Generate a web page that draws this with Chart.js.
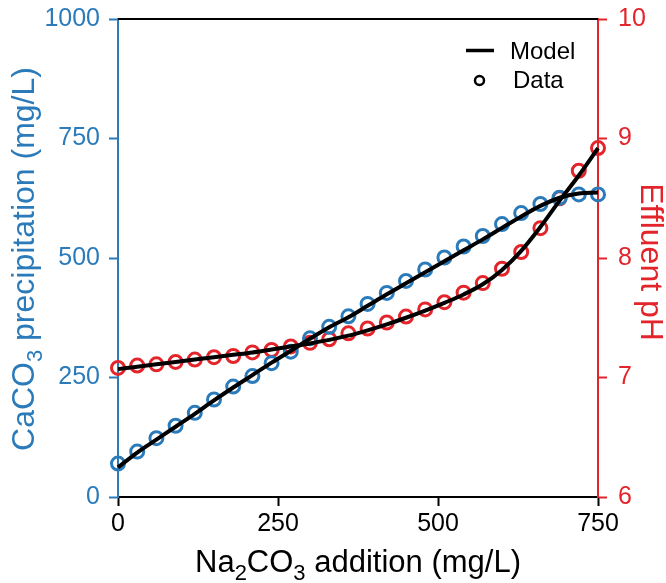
<!DOCTYPE html>
<html>
<head>
<meta charset="utf-8">
<script src="https://cdn.jsdelivr.net/npm/chart.js@4"></script>
<style>
  html, body { margin: 0; padding: 0; background: #fff; }
  #wrap { width: 666px; height: 583px; }
</style>
</head>
<body>
<div id="wrap"><canvas id="chart" width="666" height="583"></canvas></div>
<script>
// Na2CO3 addition (mg/L)
const doseX = [0, 30, 60, 90, 120, 150, 180, 210, 240, 270, 300, 330, 360, 390, 420, 450, 480, 510, 540, 570, 600, 630, 660, 690, 720, 750];
// measured points
const caco3Data = [70, 95, 123, 149, 176, 204, 231, 253, 280, 304, 332, 356, 378, 404, 427, 452, 476, 501, 524, 546, 571, 594, 613, 626, 633, 633];
const phData = [7.08, 7.10, 7.11, 7.13, 7.15, 7.17, 7.18, 7.21, 7.23, 7.26, 7.29, 7.32, 7.37, 7.41, 7.46, 7.51, 7.57, 7.63, 7.71, 7.79, 7.91, 8.05, 8.25, 8.50, 8.73, 8.92];
// model curves
const caco3Model = [62, 93, 120, 147, 174, 202, 229, 255, 281, 306, 331, 355, 376, 400, 424, 447, 470, 493, 516, 539, 563, 587, 609, 626, 635, 637];
const phModel = [7.07, 7.09, 7.11, 7.13, 7.15, 7.17, 7.19, 7.21, 7.235, 7.26, 7.285, 7.315, 7.35, 7.395, 7.445, 7.5, 7.56, 7.625, 7.695, 7.78, 7.9, 8.06, 8.26, 8.48, 8.69, 8.92];

const xTicks = [0, 250, 500, 750];
const caco3Ticks = [0, 250, 500, 750, 1000];
const phTicks = [6, 7, 8, 9, 10];

const BLUE = '#2b7bba';
const RED = '#e3242b';
const FONT = "'Liberation Sans', Arial, sans-serif";

function pts(ys) {
  return doseX.map((x, i) => ({x: x, y: ys[i]}));
}

//draw a string made of pieces, some of them subscripts
function drawPieces(ctx, pieces, size, align) {
  const sub = Math.round(size * 0.7);
  let total = 0;
  pieces.forEach(p => {
    ctx.font = `${p.sub ? sub : size}px ${FONT}`;
    p.w = ctx.measureText(p.t).width;
    total += p.w;
  });
  let x = align == 'center' ? -total / 2 : 0;
  pieces.forEach(p => {
    ctx.font = `${p.sub ? sub : size}px ${FONT}`;
    ctx.fillText(p.t, x, p.sub ? size * 0.25 : 0);
    x += p.w;
  });
}

const decorations = {
  id: 'decorations',
  afterDraw(chart) {
    const ctx = chart.ctx;
    const a = chart.chartArea;
    ctx.save();
    //top spine
    ctx.strokeStyle = '#000';
    ctx.lineWidth = 2;
    ctx.beginPath();
    ctx.moveTo(a.left, a.top);
    ctx.lineTo(a.right, a.top);
    ctx.stroke();

    ctx.textBaseline = 'alphabetic';
    ctx.textAlign = 'left';

    //x title
    ctx.fillStyle = '#000';
    ctx.save();
    ctx.translate((a.left + a.right) / 2, 572);
    drawPieces(ctx, [{t: 'Na'}, {t: '2', sub: true}, {t: 'CO'}, {t: '3', sub: true}, {t: ' addition (mg/L)'}], 31, 'center');
    ctx.restore();

    //left title
    ctx.fillStyle = BLUE;
    ctx.save();
    ctx.translate(34, 259);
    ctx.rotate(-Math.PI / 2);
    drawPieces(ctx, [{t: 'CaCO'}, {t: '3', sub: true}, {t: ' precipitation (mg/L)'}], 32, 'center');
    ctx.restore();

    //right title
    ctx.fillStyle = RED;
    ctx.save();
    ctx.translate(641, 262);
    ctx.rotate(Math.PI / 2);
    drawPieces(ctx, [{t: 'Effluent pH'}], 32, 'center');
    ctx.restore();

    //legend
    ctx.fillStyle = '#000';
    ctx.strokeStyle = '#000';
    ctx.lineWidth = 3.5;
    ctx.beginPath();
    ctx.moveTo(466, 50.5);
    ctx.lineTo(494, 50.5);
    ctx.stroke();
    ctx.lineWidth = 2.5;
    ctx.beginPath();
    ctx.arc(479.5, 80.5, 4.5, 0, Math.PI * 2);
    ctx.stroke();
    ctx.font = `24px ${FONT}`;
    ctx.fillText('Model', 510, 59);
    ctx.fillText('Data', 513, 88);
    ctx.restore();
  }
};

function yAxis(pos, color, min, max, ticks, width, pad) {
  return {
    type: 'linear',
    position: pos,
    min: min,
    max: max,
    afterBuildTicks: (s) => { s.ticks = ticks.map(v => ({value: v})); },
    afterFit: (s) => { s.width = width; s.paddingTop = 0; s.paddingBottom = 0; },
    border: {display: true, color: color, width: 2},
    grid: {display: true, drawOnChartArea: false, drawTicks: true, tickLength: 9, tickWidth: 2, tickColor: color},
    ticks: {color: color, font: {family: FONT, size: 25}, padding: pad, callback: (v) => String(v)}
  };
}

new Chart(document.getElementById('chart'), {
  type: 'line',
  data: {
    datasets: [
      {
        label: 'CaCO3 model',
        data: pts(caco3Model),
        yAxisID: 'y',
        borderColor: '#000',
        borderWidth: 4,
        pointRadius: 0,
        cubicInterpolationMode: 'monotone',
        order: 0
      },
      {
        label: 'pH model',
        data: pts(phModel),
        yAxisID: 'y1',
        borderColor: '#000',
        borderWidth: 4,
        pointRadius: 0,
        cubicInterpolationMode: 'monotone',
        order: 0
      },
      {
        label: 'CaCO3 data',
        data: pts(caco3Data),
        yAxisID: 'y',
        showLine: false,
        pointRadius: 6.5,
        pointBorderWidth: 3,
        pointBorderColor: BLUE,
        pointBackgroundColor: 'rgba(0,0,0,0)',
        order: 1
      },
      {
        label: 'pH data',
        data: pts(phData),
        yAxisID: 'y1',
        showLine: false,
        pointRadius: 6.5,
        pointBorderWidth: 3,
        pointBorderColor: RED,
        pointBackgroundColor: 'rgba(0,0,0,0)',
        order: 1
      }
    ]
  },
  options: {
    responsive: false,
    animation: false,
    clip: false,
    layout: {padding: {top: 19, left: 0, right: 0, bottom: 0}},
    plugins: {legend: {display: false}, tooltip: {enabled: false}},
    scales: {
      x: {
        type: 'linear',
        min: 0,
        max: 750,
        afterBuildTicks: (s) => { s.ticks = xTicks.map(v => ({value: v})); },
        afterFit: (s) => { s.height = 86; s.paddingLeft = 0; s.paddingRight = 0; },
        border: {display: true, color: '#000', width: 2},
        grid: {display: true, drawOnChartArea: false, drawTicks: true, tickLength: 9, tickWidth: 2, tickColor: '#000'},
        ticks: {color: '#000', font: {family: FONT, size: 25}, padding: 3, maxRotation: 0, callback: (v) => String(v)}
      },
      y: yAxis('left', BLUE, 0, 1000, caco3Ticks, 118, 9),
      y1: yAxis('right', RED, 6, 10, phTicks, 68, 11)
    }
  },
  plugins: [decorations]
});
</script>
</body>
</html>
